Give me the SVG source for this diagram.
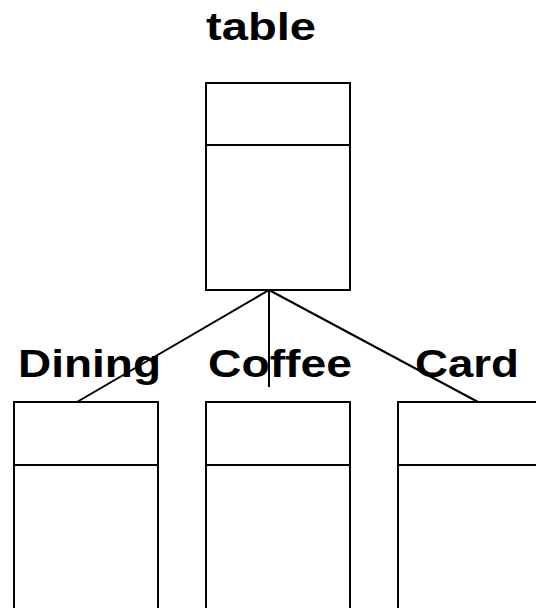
<svg xmlns="http://www.w3.org/2000/svg" width="536" height="608" viewBox="0 0 536 608">
<style>
.box{fill:#fff;stroke:#000;stroke-width:2}
.div{stroke:#000;stroke-width:2}
.lbl{font-family:"Liberation Sans",Arial,sans-serif;font-weight:bold;font-size:38px;fill:#000}
.conn{stroke:#000;stroke-width:2;fill:none}
</style>
<rect width="536" height="608" fill="#fff"/>
<g id="table">
<text class="lbl" x="206" y="40" textLength="110" lengthAdjust="spacingAndGlyphs">table</text>
<rect class="box" x="206" y="83" width="144" height="207"/>
<line class="div" x1="206" y1="145" x2="351" y2="145"/>
</g>
<g id="dining">
<rect class="box" x="14" y="402" width="144" height="220"/>
<line class="div" x1="13" y1="465" x2="159" y2="465"/>
</g>
<g id="coffee">
<rect class="box" x="206" y="402" width="144" height="220"/>
<line class="div" x1="206" y1="465" x2="351" y2="465"/>
</g>
<g id="card">
<rect class="box" x="398" y="402" width="144" height="220"/>
<line class="div" x1="398" y1="465" x2="542" y2="465"/>
</g>
<g id="connectors">
<line class="conn" x1="269" y1="290" x2="77" y2="402"/>
<line class="conn" x1="269" y1="290" x2="269" y2="387"/>
<line class="conn" x1="269" y1="290" x2="478" y2="402"/>
</g>
<g id="labels">
<text class="lbl" x="18" y="377" textLength="143" lengthAdjust="spacingAndGlyphs">Dining</text>
<text class="lbl" x="208" y="377" textLength="144" lengthAdjust="spacingAndGlyphs">Coffee</text>
<text class="lbl" x="415" y="377" textLength="104" lengthAdjust="spacingAndGlyphs">Card</text>
</g>
</svg>
